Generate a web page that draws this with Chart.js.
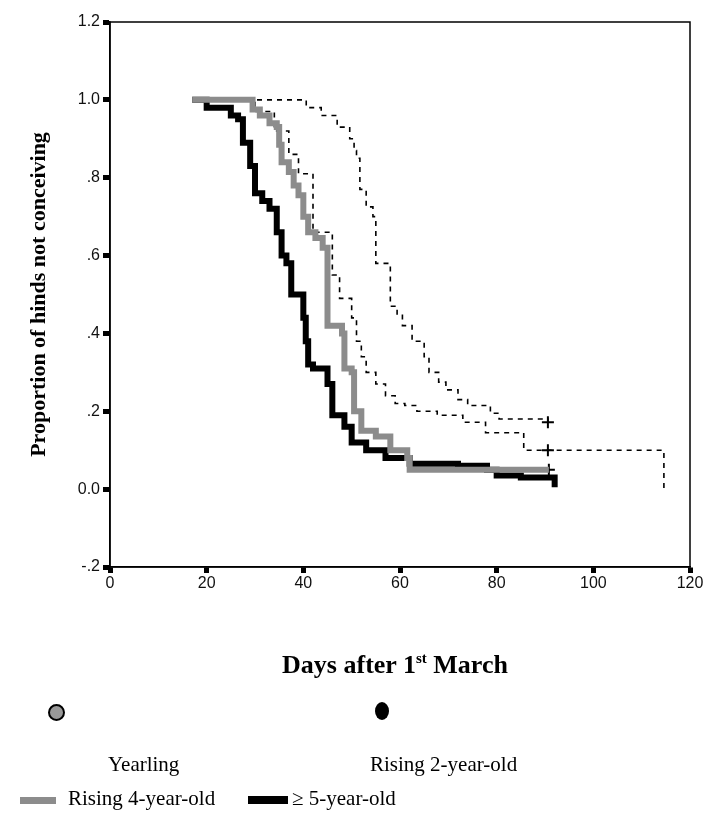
<!DOCTYPE html>
<html>
<head>
<meta charset="utf-8">
<script src="https://cdn.jsdelivr.net/npm/chart.js@4"></script>
<style>
  body { margin: 0; background: #fff; }
  #wrap { position: relative; width: 708px; height: 820px; }
  #chart { position: absolute; left: 0; top: 0; }
  .serif { font-family: "Liberation Serif", "Times New Roman", serif; color: #000; position: absolute; white-space: nowrap; }
  .xtitle { font-weight: bold; font-size: 26px; left: 0; width: 790px; text-align: center; top: 650px; }
  .xtitle sup { font-size: 15px; }
  .lab { font-size: 21px; }
  .dot { position: absolute; border-radius: 50%; }
  .bar { position: absolute; height: 7px; }
</style>
</head>
<body>
<div id="wrap">
  <canvas id="chart" width="708" height="820"></canvas>
  <div class="serif xtitle">Days after 1<sup>st</sup> March</div>

  <div class="dot" style="left:48px;top:704px;width:13px;height:13px;background:#999;border:2px solid #000;"></div>
  <div class="serif lab" style="left:108px;top:752px;">Yearling</div>
  <div class="dot" style="left:375px;top:702px;width:14px;height:18px;background:#000;"></div>
  <div class="serif lab" style="left:370px;top:752px;">Rising 2-year-old</div>

  <div class="bar" style="left:20px;top:797px;width:36px;background:#8c8c8c;"></div>
  <div class="serif lab" style="left:68px;top:786px;">Rising 4-year-old</div>
  <div class="bar" style="left:248px;top:796px;width:40px;height:8px;background:#000;"></div>
  <div class="serif lab" style="left:292px;top:786px;">≥ 5-year-old</div>
</div>
<script>
// Kaplan-Meier curves (day, proportion not conceiving)
var yearlingDays   = [18, 40.6, 43.7, 47, 49.6, 50.5, 51, 51.7, 53, 54.4, 55, 58, 59.4, 60.5, 62.5, 65, 66, 68, 69.5, 72, 74, 78.7, 80.5, 90.6];
var yearlingVals   = [1.0, 0.98, 0.96, 0.93, 0.90, 0.87, 0.85, 0.77, 0.725, 0.70, 0.58, 0.47, 0.45, 0.42, 0.38, 0.34, 0.30, 0.275, 0.255, 0.23, 0.215, 0.195, 0.18, 0.172];

var rising2Days    = [18, 30, 34, 37, 39, 42, 46, 47.5, 50, 51, 52, 53, 55, 57, 59, 61, 63.5, 67.7, 73, 77.7, 85.6, 114.6];
var rising2Vals    = [1.0, 0.97, 0.92, 0.86, 0.81, 0.66, 0.55, 0.49, 0.44, 0.38, 0.34, 0.30, 0.27, 0.24, 0.22, 0.215, 0.20, 0.19, 0.172, 0.145, 0.10, 0.0];

var rising4Days    = [17, 29.5, 31, 33, 34.5, 35, 35.5, 37, 38, 39, 40, 41, 42.5, 44, 45, 48, 48.5, 50, 50.5, 52, 55, 58, 61.5, 62, 90.8];
var rising4Vals    = [1.0, 0.975, 0.96, 0.94, 0.93, 0.885, 0.84, 0.815, 0.78, 0.755, 0.70, 0.66, 0.645, 0.62, 0.42, 0.40, 0.31, 0.30, 0.20, 0.15, 0.135, 0.10, 0.08, 0.05, 0.05];

var fivePlusDays   = [17, 20, 25, 26.5, 27.5, 29, 30, 31.5, 33, 34.5, 35.5, 36.5, 37.5, 40, 40.5, 41, 42, 45, 46, 48.5, 50, 53, 57, 62, 72, 78, 80, 85, 92];
var fivePlusVals   = [1.0, 0.98, 0.96, 0.95, 0.89, 0.83, 0.76, 0.74, 0.72, 0.66, 0.60, 0.58, 0.50, 0.44, 0.38, 0.32, 0.31, 0.27, 0.19, 0.16, 0.12, 0.10, 0.08, 0.065, 0.06, 0.05, 0.035, 0.03, 0.005];

// censored observations ("+" marks)
var censorDays = [90.6, 90.6, 90.8];
var censorVals = [0.172, 0.10, 0.05];

var xTicks = [0, 20, 40, 60, 80, 100, 120];
var yTickLabels = ['-.2', '0.0', '.2', '.4', '.6', '.8', '1.0', '1.2'];

function pts(xs, ys) {
  return xs.map(function (x, i) { return { x: x, y: ys[i] }; });
}

var frame = {
  id: 'frame',
  afterDraw: function (chart) {
    var a = chart.chartArea, ctx = chart.ctx;
    ctx.save();
    ctx.strokeStyle = '#000';
    ctx.lineWidth = 1.5;
    ctx.strokeRect(a.left, a.top, a.right - a.left, a.bottom - a.top);
    ctx.restore();
  }
};

new Chart(document.getElementById('chart'), {
  type: 'line',
  data: {
    datasets: [{
      label: 'Rising 4-year-old',
      data: pts(rising4Days, rising4Vals),
      borderColor: '#8c8c8c',
      borderWidth: 6,
      stepped: 'before',
      pointRadius: 0
    }, {
      label: '≥ 5-year-old',
      data: pts(fivePlusDays, fivePlusVals),
      borderColor: '#000',
      borderWidth: 6,
      stepped: 'before',
      pointRadius: 0
    }, {
      label: 'Yearling',
      data: pts(yearlingDays, yearlingVals),
      borderColor: '#000',
      borderWidth: 1.6,
      borderDash: [5, 5],
      stepped: 'before',
      pointRadius: 0
    }, {
      label: 'Rising 2-year-old',
      data: pts(rising2Days, rising2Vals),
      borderColor: '#000',
      borderWidth: 1.6,
      borderDash: [5, 5],
      stepped: 'before',
      pointRadius: 0
    }, {
      type: 'scatter',
      label: 'censored',
      data: pts(censorDays, censorVals),
      pointStyle: 'cross',
      pointRadius: 6,
      borderColor: '#000',
      borderWidth: 2
    }]
  },
  options: {
    responsive: false,
    animation: false,
    layout: { padding: { top: 22, right: 18, bottom: 223, left: 0 } },
    plugins: {
      legend: { display: false },
      tooltip: { enabled: false }
    },
    scales: {
      x: {
        type: 'linear',
        min: 0, max: 120,
        afterBuildTicks: function (s) { s.ticks = xTicks.map(function (v) { return { value: v }; }); },
        afterFit: function (s) { s.height = 30; },
        grid: { drawOnChartArea: false, tickLength: 6, tickWidth: 5, tickColor: '#000' },
        border: { color: '#000', width: 1.5 },
        ticks: { color: '#111', font: { family: 'Liberation Sans', size: 16 }, padding: 1, maxRotation: 0 }
      },
      y: {
        min: -0.2, max: 1.2,
        ticks: {
          stepSize: 0.2,
          color: '#111',
          font: { family: 'Liberation Sans', size: 16 },
          padding: 3,
          callback: function (v) { return yTickLabels[Math.round((v + 0.2) / 0.2)]; }
        },
        afterFit: function (s) { s.width = 110; },
        grid: { drawOnChartArea: false, tickLength: 7, tickWidth: 5, tickColor: '#000' },
        border: { color: '#000', width: 1.5 },
        title: {
          display: true,
          text: 'Proportion of hinds not conceiving',
          color: '#000',
          font: { family: 'Liberation Serif', size: 22, weight: 'bold' },
          padding: { top: 26, bottom: 0 }
        }
      }
    }
  },
  plugins: [frame]
});
</script>
</body>
</html>
